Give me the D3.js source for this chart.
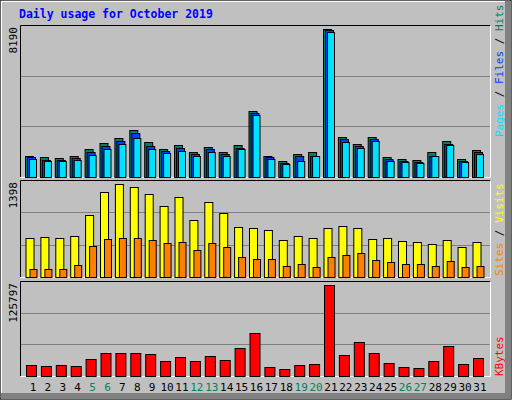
<!DOCTYPE html>
<html><head><meta charset="utf-8">
<script src="https://cdn.jsdelivr.net/npm/d3@7"></script>
<style>body{margin:0;background:#fff}</style>
</head><body><svg id="c" width="512" height="400"></svg>
<script>
const days = d3.range(1,32);
const weekends = [5,6,12,13,19,20,26,27];
const hits  = [1146,1091,1035,1146,1535,1867,2145,2588,1923,1535,1756,1368,1645,1368,1756,3642,1146,869,1257,1368,8190,2200,1812,2200,1091,980,924,1368,1978,980,1479];
const files = [1109,961,943,1054,1405,1738,2015,2422,1738,1461,1627,1257,1572,1294,1627,3531,1091,795,1183,1183,8116,2126,1719,2126,1017,906,850,1183,1849,906,1368];
const pages = [1017,906,906,961,1239,1572,1849,2182,1572,1350,1461,1183,1405,1183,1572,3457,1017,740,906,1183,8005,1960,1627,2015,906,850,795,1183,1793,850,1294];
const visits= [580,596,580,611,929,1277,1398,1353,1247,1065,1201,853,1125,959,747,732,702,550,611,580,732,762,732,565,580,535,520,490,550,444,520];
const sites = [126,126,126,187,459,565,580,580,550,505,520,399,505,444,308,278,278,172,202,156,308,338,368,262,232,202,202,172,247,156,172];
const kbytes= [15552,14180,15552,14180,23785,32018,32018,32018,30646,21040,26529,21040,27901,22413,38879,59462,12807,10063,15552,16924,125797,29274,47112,32018,18296,12807,11435,21040,41623,16924,25157];

const svg = d3.select('#c');
const mono = "'DejaVu Sans Mono', monospace";
svg.append('rect').attr('width',512).attr('height',400).attr('fill','#c0c0c0');
svg.append('rect').attr('x',0).attr('y',0).attr('width',511).attr('height',399).attr('fill','none').attr('stroke','#000');
svg.append('rect').attr('x',505).attr('y',1).attr('width',6).attr('height',398).attr('fill','#808080');
svg.append('rect').attr('x',1).attr('y',393).attr('width',510).attr('height',6).attr('fill','#808080');
svg.append('line').attr('x1',1).attr('y1',1.5).attr('x2',505).attr('y2',1.5).attr('stroke','#fff');
svg.append('line').attr('x1',1.5).attr('y1',1).attr('x2',1.5).attr('y2',393).attr('stroke','#fff');

svg.append('text').attr('x',19).attr('y',18).attr('fill','#0000ff').attr('font-family',mono)
  .attr('font-weight','bold').attr('font-size',11.5).text('Daily usage for October 2019');

const x = d3.scaleBand().domain(days).range([25.5, 25.5+31*14.9]);

function panel(top,bottom,maxv,label){
  const g = svg.append('g');
  g.append('rect').attr('x',20.5).attr('y',top+0.5).attr('width',470).attr('height',bottom-top).attr('fill','#c0c0c0');
  const h = bottom-top;
  [1/3,2/3].forEach(f=>g.append('line').attr('x1',21).attr('x2',490).attr('y1',Math.round(bottom-h*f)+0.5).attr('y2',Math.round(bottom-h*f)+0.5).attr('stroke','#808080'));
  g.append('path').attr('d',`M20.5,${bottom}V${top+0.5}H490.5`).attr('fill','none').attr('stroke','#000');
  g.append('path').attr('d',`M490.5,${top+0.5}V${bottom+0.5}H20.5`).attr('fill','none').attr('stroke','#fff');
  g.append('text').attr('transform',`translate(17,${top+2}) rotate(-90)`).attr('text-anchor','end')
    .attr('font-family',mono).attr('font-size',11).attr('fill','#000').text(label);
  return d3.scaleLinear().domain([0,maxv]).range([bottom,top+4]);
}
function bars(y,data,off,w,color){
  svg.append('g').selectAll('rect').data(data).join('rect')
    .attr('x',(d,i)=>x(days[i])+off+0.5).attr('y',d=>Math.round(y(d))+0.5)
    .attr('width',w).attr('height',d=>Math.max(0,y.range()[0]-Math.round(y(d))))
    .attr('fill',color).attr('stroke','#000');
}
const y1 = panel(25,177,d3.max(hits),'8190');
bars(y1,hits,-0.5,8,'#008060');
bars(y1,files,1.5,8,'#0040ff');
bars(y1,pages,3.5,7,'#00e0ff');
const y2 = panel(180,277,d3.max(visits),'1398');
bars(y2,visits,0,8,'#ffff00');
bars(y2,sites,4,7,'#ff8000');
const y3 = panel(281,376,d3.max(kbytes),'125797');
bars(y3,kbytes,0.5,10,'#ff0000');

svg.append('g').selectAll('text').data(days).join('text')
  .attr('x',d=>x(d)+x.bandwidth()/2).attr('y',391).attr('text-anchor','middle')
  .attr('font-family',mono).attr('font-size',11)
  .attr('fill',d=>weekends.includes(d)?'#008060':'#000').text(d=>d);

function rlabel(yTop,parts){
  const t = svg.append('text').attr('transform',`translate(495,${yTop}) rotate(90)`)
    .attr('font-family',mono).attr('font-size',11);
  parts.forEach(([s,c])=>t.append('tspan').attr('fill',c).text(s));
}
// rotated 90: reading top to bottom; reference reads bottom-to-top, so rotate -90
function rlabelUp(yBottom,parts){
  const t = svg.append('text').attr('transform',`translate(503,${yBottom}) rotate(-90)`)
    .attr('font-family',mono).attr('font-size',11);
  parts.forEach(([s,c])=>t.append('tspan').attr('fill',c).text(s));
}
rlabelUp(137,[['Pages','#00e0ff'],[' / ','#000'],['Files','#0040ff'],[' / ','#000'],['Hits','#008060']]);
rlabelUp(276,[['Sites','#ff8000'],[' / ','#000'],['Visits','#ffff00']]);
rlabelUp(376,[['KBytes','#ff0000']]);
</script></body></html>
